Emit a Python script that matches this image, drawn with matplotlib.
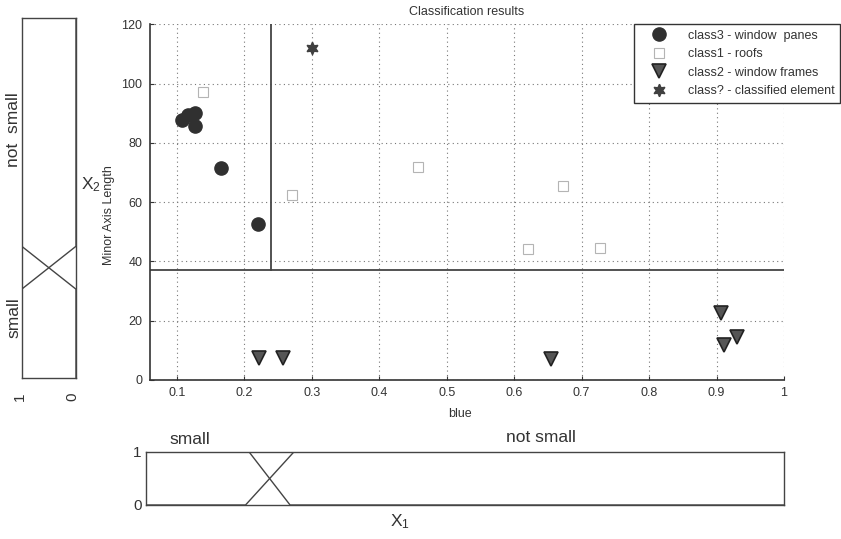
import numpy as np
import matplotlib
matplotlib.use('Agg')
from matplotlib import pyplot as plt

plt.rcParams['font.family'] = ['Liberation Sans', 'DejaVu Sans']
plt.rcParams['mathtext.default'] = 'regular'

# classification results (blue vs minor axis length)
class3_x = [0.108, 0.116, 0.127, 0.127, 0.165, 0.22]
class3_y = [87.8, 89.3, 90.0, 85.6, 71.5, 52.7]
class1_x = [0.138, 0.27, 0.457, 0.672, 0.62, 0.727]
class1_y = [97.0, 62.5, 72.0, 65.3, 44.2, 44.5]
class2_x = [0.221, 0.257, 0.655, 0.907, 0.911, 0.93]
class2_y = [7.3, 7.3, 7.0, 22.5, 11.8, 14.4]
unknown_x = [0.30]
unknown_y = [112.0]
labels = ['class3 - window  panes', 'class1 - roofs',
          'class2 - window frames', 'class? - classified element']

# decision thresholds
x1_split = 0.24
x2_split = 37.0

# membership functions
x1_pts_small = [0.0545, 0.207, 0.268, 1.0]
x1_mu_small = [1, 1, 0, 0]
x1_pts_big = [0.0545, 0.202, 0.274, 1.0]
x1_mu_big = [0, 0, 1, 1]
x2_pts = [0, 30.0, 44.5, 121.6]
x2_mu_small = [1, 1, 0, 0]
x2_mu_big = [0, 0, 1, 1]

W, H = 841, 539
fig = plt.figure(figsize=(W/100, H/100), dpi=100)

def px_axes(l, t, r, b):
    return fig.add_axes([l/W, 1-b/H, (r-l)/W, (b-t)/H])

txt = '#333333'
ln = '#444444'

#---------------- main scatter
ax = px_axes(149.5, 24.3, 784, 380)
ax.set_xlim(0.0594, 1.0)
ax.set_ylim(0, 120)
ax.set_xticks(np.arange(0.1, 1.01, 0.1))
ax.set_xticklabels(['0.1', '0.2', '0.3', '0.4', '0.5', '0.6', '0.7', '0.8', '0.9', '1'])
ax.set_yticks(np.arange(0, 121, 20))
ax.grid(True, linestyle=(0, (1, 3)), color='#777777', linewidth=0.8)
ax.tick_params(direction='in', length=3, labelsize=9, colors=txt, pad=5)
for s in ['top', 'right']:
    ax.spines[s].set_visible(False)
for s in ['left', 'bottom']:
    ax.spines[s].set_color('#333333')
    ax.spines[s].set_linewidth(1.2)

ax.plot([0.0594, 1.0], [x2_split, x2_split], color=ln, lw=1.3)
ax.plot([x1_split, x1_split], [x2_split, 120], color=ln, lw=1.3)

h1, = ax.plot(class3_x, class3_y, 'o', color='#303030', markersize=9.5, linestyle='none')
h2, = ax.plot(class1_x, class1_y, 's', markerfacecolor='none', markeredgecolor='#b4b4b4',
              markeredgewidth=0.8, markersize=6.5, linestyle='none')
h3, = ax.plot(class2_x, class2_y, 'v', markerfacecolor='#555555', markeredgecolor='#222222',
              markeredgewidth=1.2, markersize=9.5, linestyle='none')
h4, = ax.plot(unknown_x, unknown_y, marker=(6, 1, 0), color='#404040', markersize=9, linestyle='none')

ax.set_title('Classification results', fontsize=9, color=txt, pad=7)
ax.set_xlabel('blue', fontsize=9, color=txt)
ax.xaxis.set_label_coords(0.49, -0.08)
ax.set_ylabel('Minor Axis Length', fontsize=9, color=txt)
ax.yaxis.set_label_coords(-0.054, 0.464)

leg = ax.legend([h1, h2, h3, h4], labels, loc='upper right', bbox_to_anchor=(840/W, 1-24/H),
                bbox_transform=fig.transFigure, fontsize=9, fancybox=False, framealpha=1,
                edgecolor='#333333', borderpad=0.45, labelspacing=0.52, handlelength=3.0,
                handletextpad=0.82, borderaxespad=0)
for t in leg.get_texts():
    t.set_color(txt)
leg.get_frame().set_linewidth(1.0)

#---------------- left membership panel (x2)
axl = px_axes(21.7, 18, 76, 378)
axl.plot(x2_mu_small, x2_pts, color=ln, lw=1.0)
axl.plot(x2_mu_big, x2_pts, color=ln, lw=1.0)
axl.set_xlim(1, 0)
axl.set_ylim(0, 121.6)
axl.set_xticks([])
axl.set_yticks([])
for s in axl.spines.values():
    s.set_color(ln)
    s.set_linewidth(1.0)
fig.text(14/W, 1-130/H, 'not  small', rotation=90, fontsize=12.5, color=txt, ha='center', va='center')
fig.text(14/W, 1-318/H, 'small', rotation=90, fontsize=12.5, color=txt, ha='center', va='center')
fig.text(91/W, 1-185/H, 'X$_2$', fontsize=12.5, color=txt, ha='center', va='center')
fig.text(20/W, 1-397/H, '1', rotation=90, fontsize=11, color=txt, ha='center', va='center')
fig.text(72/W, 1-397/H, '0', rotation=90, fontsize=11, color=txt, ha='center', va='center')

#---------------- bottom membership panel (x1)
axb = px_axes(146, 451.7, 784, 505)
axb.plot(x1_pts_small, x1_mu_small, color=ln, lw=1.0)
axb.plot(x1_pts_big, x1_mu_big, color=ln, lw=1.0)
axb.set_xlim(0.0545, 1.0)
axb.set_ylim(0, 1)
axb.set_xticks([])
axb.set_yticks([0, 1])
axb.tick_params(length=0, labelsize=11, colors=txt, pad=3)
for s in axb.spines.values():
    s.set_color(ln)
    s.set_linewidth(1.0)
fig.text(190/W, 1-440/H, 'small', fontsize=12.5, color=txt, ha='center', va='center')
fig.text(541/W, 1-438/H, 'not small', fontsize=12.5, color=txt, ha='center', va='center')
fig.text(400/W, 1-522/H, 'X$_1$', fontsize=12.5, color=txt, ha='center', va='center')

fig.savefig('out.png', dpi=100)
